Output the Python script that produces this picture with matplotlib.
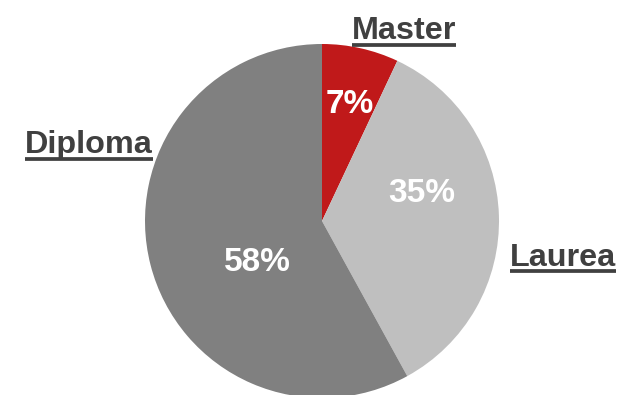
import matplotlib
matplotlib.use('Agg')
import matplotlib.pyplot as plt
from matplotlib.lines import Line2D

plt.rcParams['font.family'] = ['Liberation Sans', 'DejaVu Sans']

categories = ['Master', 'Laurea', 'Diploma']
shares = [7, 35, 58]
colors = ['#C0191A', '#BFBFBF', '#808080']

# label positions in pie-radius units (text baseline)
name_pos = [(0.463, 1.028), (1.362, -0.254), (-1.316, 0.384)]
pct_pos = [(0.158, 0.610), (0.565, 0.107), (-0.367, -0.282)]

W, H = 619, 395
fig = plt.figure(figsize=(W / 100, H / 100), dpi=100)
cx, cy, r = 322, 221, 177
ax = fig.add_axes([(cx - r) / W, (H - cy - r) / H, 2 * r / W, 2 * r / H])
ax.pie(shares, colors=colors, startangle=90, counterclock=False,
       wedgeprops=dict(linewidth=0))
ax.set_xlim(-1, 1)
ax.set_ylim(-1, 1)
ax.set_aspect('equal')
ax.axis('off')

name_texts = []
for name, (x, y) in zip(categories, name_pos):
    t = ax.text(x, y, name, ha='center', va='baseline', fontsize=23.3,
                fontweight='bold', color='#404040', clip_on=False)
    name_texts.append(t)

for v, (x, y) in zip(shares, pct_pos):
    ax.text(x, y, f'{v}%', ha='center', va='baseline', fontsize=24,
            fontweight='bold', color='white')

# underline each category name
fig.canvas.draw()
renderer = fig.canvas.get_renderer()
for t in name_texts:
    bb = t.get_window_extent(renderer)
    bx, by = ax.transData.transform(t.get_position())
    y_line = by - 5.5
    fig.add_artist(Line2D([bb.x0 / W, bb.x1 / W], [y_line / H, y_line / H],
                          transform=fig.transFigure, color='#404040', lw=2.7,
                          solid_capstyle='butt'))

fig.savefig('out.png', dpi=100)
